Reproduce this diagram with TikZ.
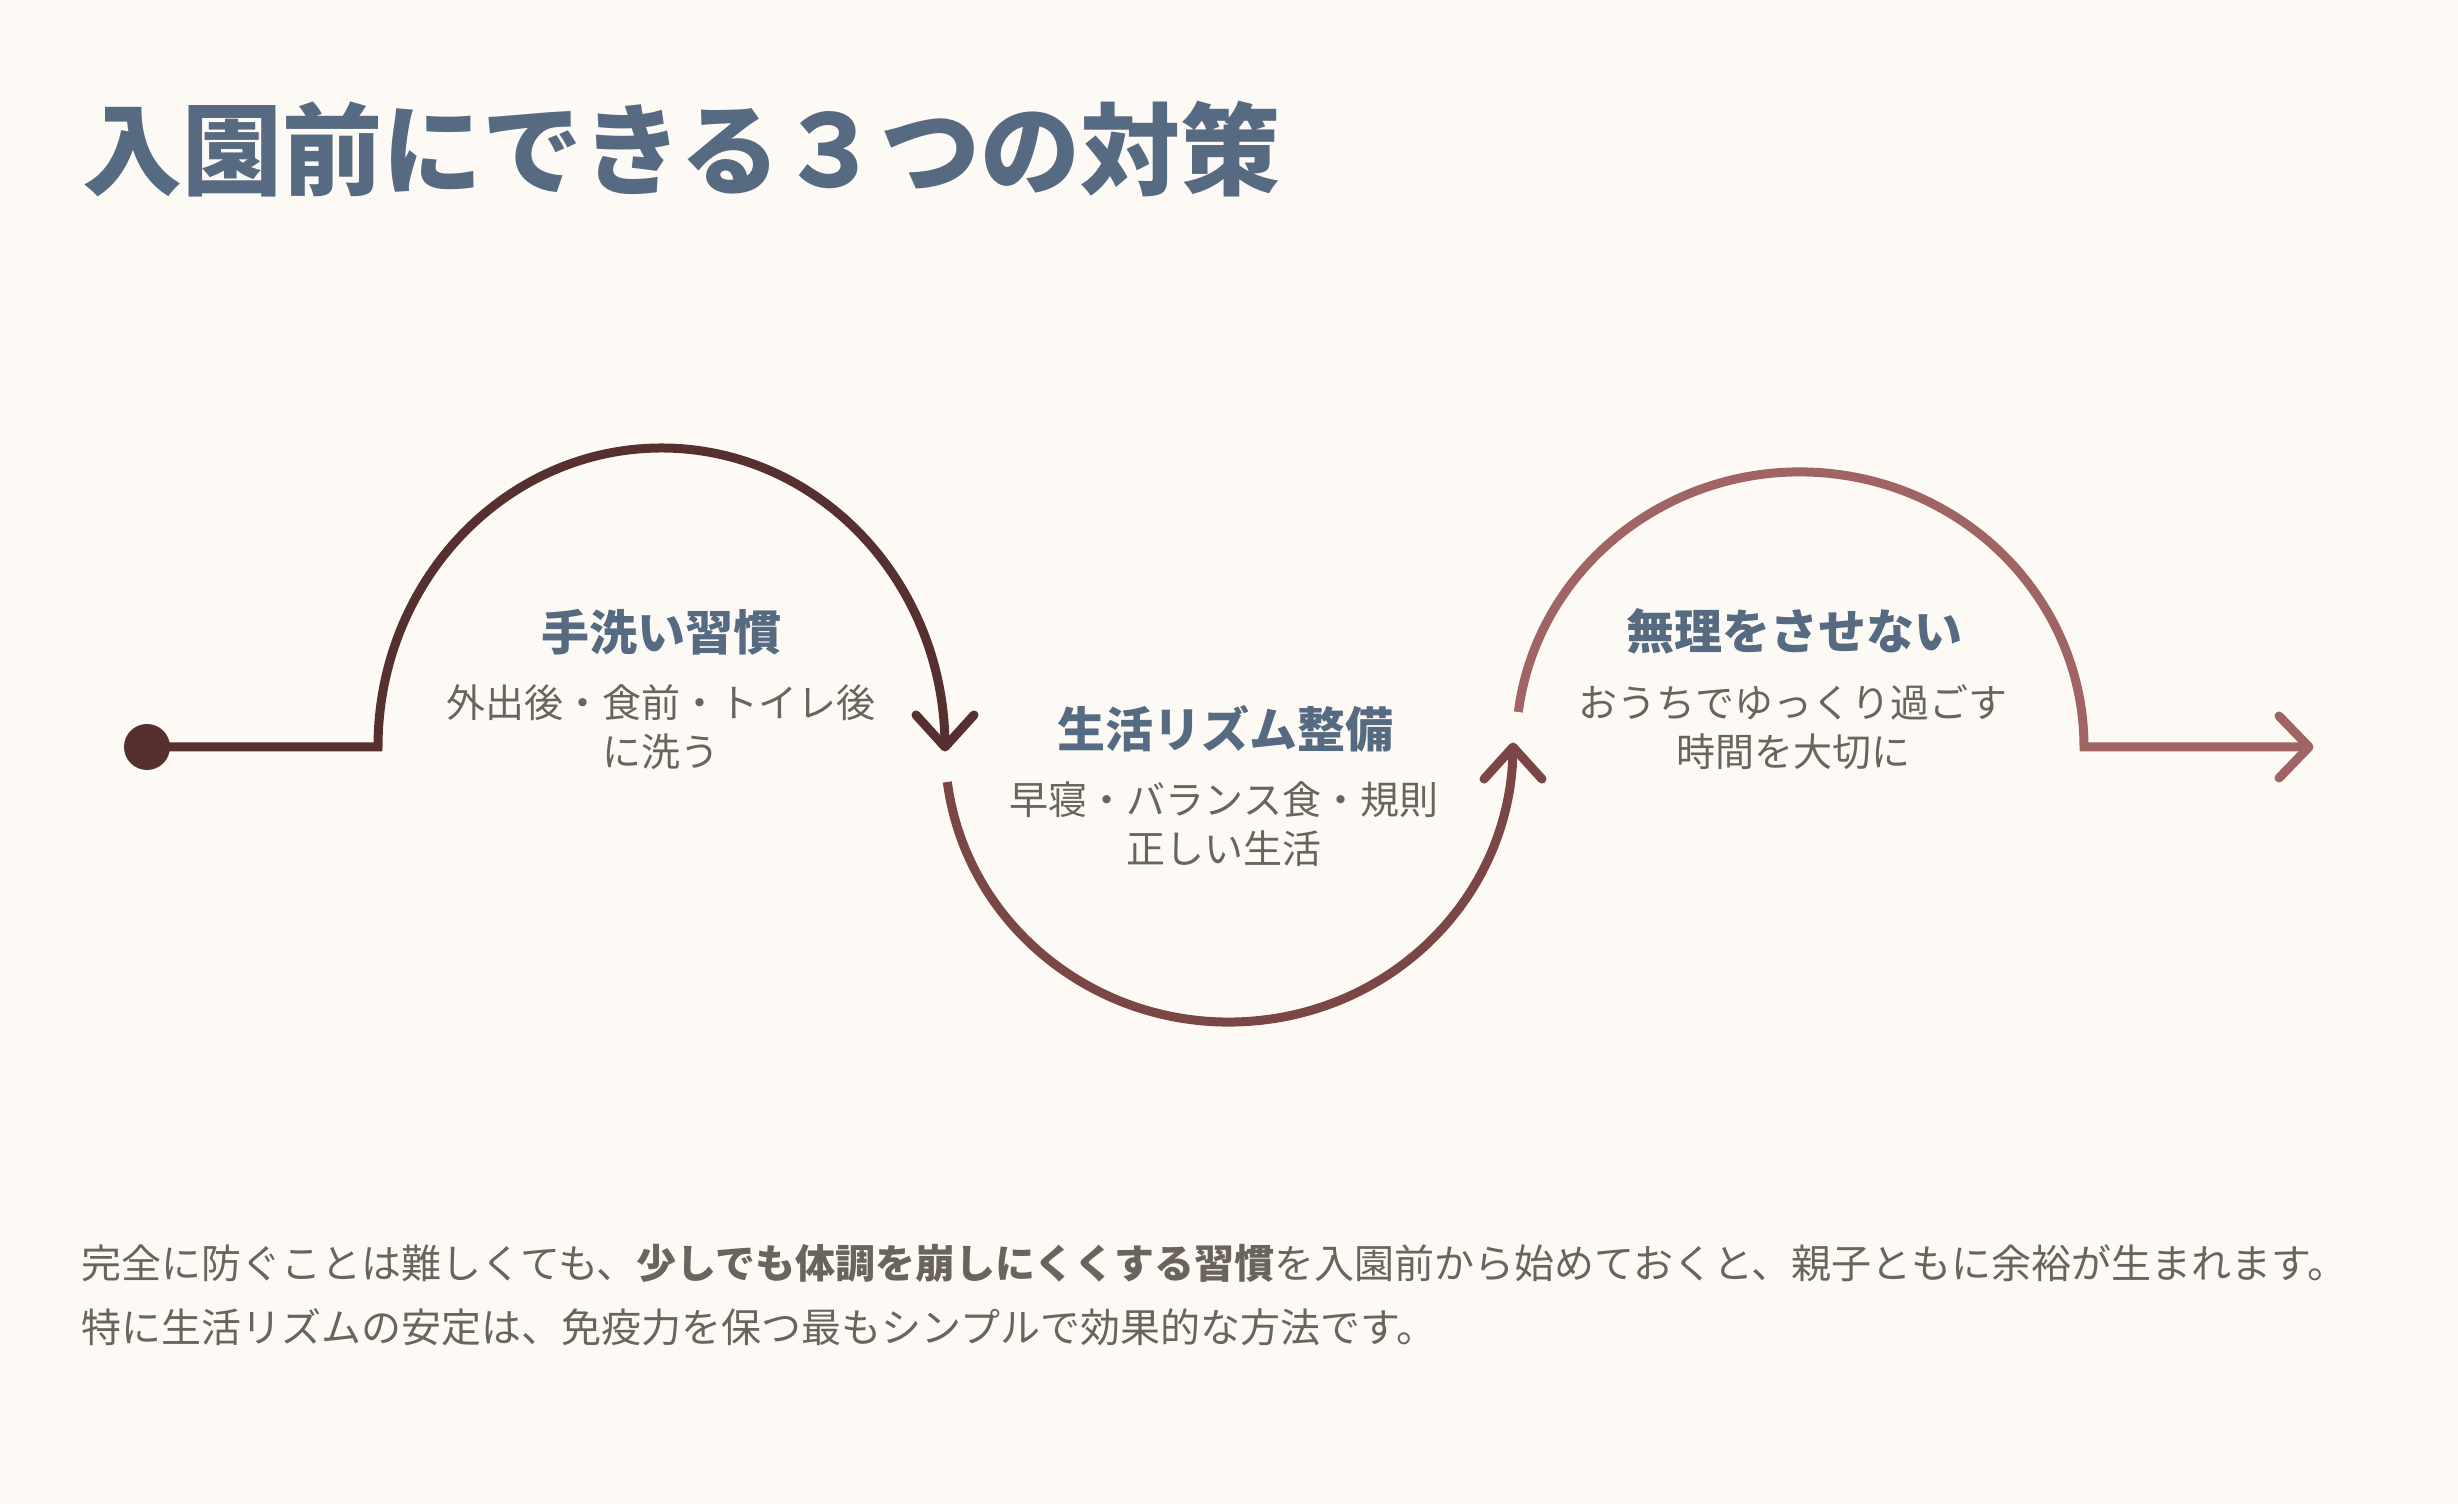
\documentclass[tikz,border=0pt]{standalone}
\usepackage{fontspec}
\setmainfont{Noto Sans CJK JP}
\definecolor{bg}{HTML}{FDFAF5}
\definecolor{slate}{HTML}{566A82}
\definecolor{txt}{HTML}{6B645D}
\definecolor{cone}{HTML}{56302F}
\definecolor{ctwo}{HTML}{7A4646}
\definecolor{cthree}{HTML}{A06464}
\begin{document}
\begin{tikzpicture}[x=1pt,y=1pt,
  flow/.style={line width=9pt},
  head/.style={line width=9pt, line cap=round, line join=round},
  dotnode/.style={circle, fill=cone, minimum size=46pt, inner sep=0},
  ttl/.style={anchor=base, inner sep=0, text=slate, font=\fontsize{48}{58}\selectfont\bfseries},
  sub/.style={anchor=base, inner sep=0, text=txt, align=center, font=\fontsize{39}{49}\selectfont}]
\fill[bg] (0,0) rectangle (2458,1504);
\useasboundingbox (0,0) rectangle (2458,1504);

\node[anchor=base west, inner sep=0, text=slate, font=\fontsize{100}{120}\selectfont\bfseries] (title) at (82,1316) {入園前にできる３つの対策};

% flow
\node[dotnode] (start) at (147,757) {};
\coordinate (aones) at (378,757);
\draw[flow, cone] (start.center) -- (aones) arc[start angle=180, end angle=0, x radius=283.5pt, y radius=299pt] coordinate (tone);
\draw[head, cone] (tone) ++(-29,32) -- (tone) -- ++(29,32);

\coordinate (atwos) at (947.3,722);
\draw[flow, ctwo] (atwos) arc[start angle=187.3, end angle=360, x radius=284pt, y radius=275pt] coordinate (ttwo);
\draw[head, ctwo] (ttwo) ++(-29,-32) -- (ttwo) -- ++(29,-32);

\coordinate (athrees) at (1518.3,792);
\coordinate (tthree) at (2309,757);
\draw[flow, cthree] (athrees) arc[start angle=172.7, end angle=0, x radius=284pt, y radius=275pt] -- (tthree);
\draw[head, cthree] (tthree) ++(-30,31) -- (tthree) -- ++(-30,-31);

% labels (base anchor = last line's baseline)
\node[ttl] (lone) at (661,853) {手洗い習慣};
\node[sub] (sone) at (661,737) {外出後・食前・トイレ後\\に洗う};
\node[ttl] (ltwo) at (1225,756) {生活リズム整備};
\node[sub] (stwo) at (1224,640) {早寝・バランス食・規則\\正しい生活};
\node[ttl] (lthree) at (1794,854) {無理をさせない};
\node[sub] (sthree) at (1793,737) {おうちでゆっくり過ごす\\時間を大切に};

% paragraph
\node[anchor=base west, inner sep=0, text=txt, align=left, font=\fontsize{40}{64}\selectfont] (para) at (81,161.5)
 {完全に防ぐことは難しくても、{\bfseries 少しでも体調を崩しにくくする習慣}を入園前から始めておくと、親子ともに余裕が生まれます。\\特に生活リズムの安定は、免疫力を保つ最もシンプルで効果的な方法です。};
\end{tikzpicture}
\end{document}
